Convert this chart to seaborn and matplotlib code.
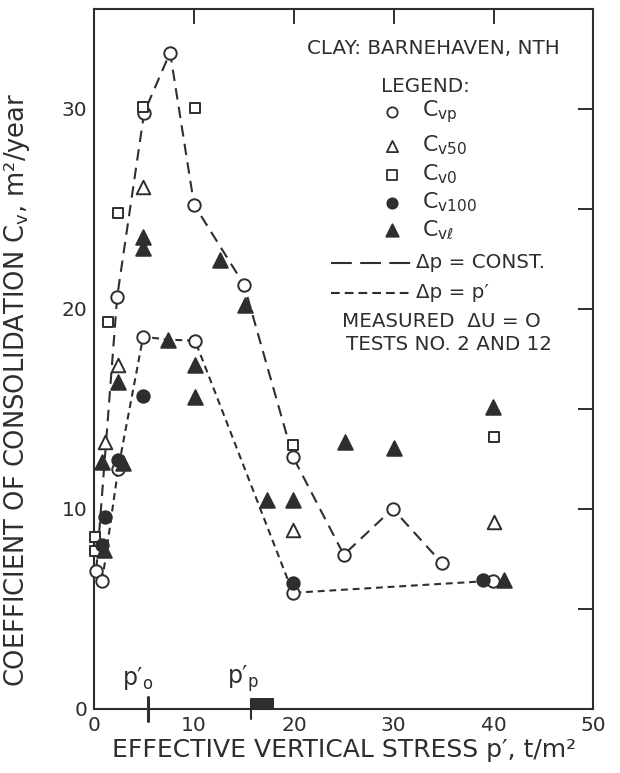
#!/usr/bin/env python3
# coefficient of consolidation vs effective vertical stress (Barnehaven clay)

import matplotlib
matplotlib.use('Agg')
import matplotlib.pyplot as plt
import pandas as pd
import seaborn as sns

# Data =========================================================================

cvp_x = [0.2, 0.8, 2.4, 2.3, 4.9, 5.0, 7.6, 10.1, 10.0, 15.0, 19.9, 19.9, 25.0, 29.9, 34.8, 39.9]
cvp_y = [6.9, 6.4, 12.0, 20.6, 18.6, 29.8, 32.8, 18.4, 25.2, 21.2, 12.6, 5.8, 7.7, 10.0, 7.3, 6.4]

cv50_x = [1.1, 2.4, 4.9, 19.9, 40.0]
cv50_y = [13.35, 17.2, 26.1, 8.95, 9.35]

cv0_x = [0.1, 0.1, 1.4, 2.4, 4.9, 10.1, 19.9, 40.0]
cv0_y = [8.6, 7.9, 19.35, 24.8, 30.1, 30.05, 13.2, 13.6]

cv100_x = [1.1, 0.8, 2.4, 4.9, 19.9, 38.9]
cv100_y = [9.6, 8.2, 12.45, 15.65, 6.3, 6.45]

cvl_x = [0.8, 1.0, 2.4, 2.9, 4.9, 4.9, 7.4, 10.1, 10.1, 12.6, 15.1, 17.3, 19.9, 25.1, 30.0, 39.9, 41.0]
cvl_y = [12.35, 7.95, 16.35, 12.3, 23.6, 23.05, 18.45, 17.2, 15.6, 22.45, 20.2, 10.45, 10.45, 13.35, 13.05, 15.1, 6.45]

# dashed curves: delta p = const. and delta p = p'
const_x = [0.2, 2.3, 5.0, 7.6, 10.0, 15.0, 19.9, 25.0, 29.9, 34.8]
const_y = [6.9, 20.6, 29.8, 32.8, 25.2, 21.2, 12.6, 7.7, 10.0, 7.3]
pprime_x = [0.8, 2.4, 4.9, 7.4, 10.1, 19.9, 39.9]
pprime_y = [6.4, 12.0, 18.6, 18.45, 18.4, 5.8, 6.4]

# p'_o and p'_p markers on the stress axis
p0_stress = 5.4
pp_stress = (15.7, 18.0)

INK = '#2e2e2e'


def main():
    sns.set_theme(style='white')
    plt.rcParams['font.family'] = ['DejaVu Sans']
    plt.rcParams['mathtext.default'] = 'regular'

    fig = plt.figure(figsize=(6.2, 7.73), dpi=100)
    ax = fig.add_axes([0.152, 0.083, 0.805, 0.906])

    long_dash = (5.5, 3.5)
    short_dash = (3.3, 2.3)
    sns.lineplot(x=const_x, y=const_y, sort=False, estimator=None, ax=ax,
                 color=INK, lw=1.5, dashes=False, linestyle=(0, long_dash))
    sns.lineplot(x=pprime_x, y=pprime_y, sort=False, estimator=None, ax=ax,
                 color=INK, lw=1.5, dashes=False, linestyle=(0, short_dash))

    series = [
        (cvp_x, cvp_y, 'o', 'white', 80),
        (cv50_x, cv50_y, '^', 'white', 95),
        (cv0_x, cv0_y, 's', 'white', 60),
        (cv100_x, cv100_y, 'o', INK, 80),
        (cvl_x, cvl_y, '^', INK, 110),
    ]
    for xs, ys, m, fc, s in series:
        sns.scatterplot(x=xs, y=ys, marker=m, s=s, facecolor=fc,
                        edgecolor=INK, linewidth=1.4, ax=ax, zorder=3,
                        clip_on=False)

    ax.set_xlim(0, 50)
    ax.set_ylim(0, 35)
    ax.set_xticks(range(0, 51, 10))
    ax.set_xticklabels(['0', '10', '20', '30', '40', '50'])
    ax.set_yticks(range(0, 36, 5))
    ax.set_yticklabels(['0', '', '10', '', '20', '', '30', ''])
    ax.tick_params(direction='in', length=11, width=1.4, color=INK,
                   labelcolor=INK, labelsize=14.5, top=True, right=True, pad=5)
    for sp in ax.spines.values():
        sp.set_color(INK)
        sp.set_linewidth(1.5)

    ax.set_xlabel('EFFECTIVE VERTICAL STRESS p′, t/m²', fontsize=18,
                  color=INK, labelpad=2)
    ax.set_ylabel('COEFFICIENT OF CONSOLIDATION C$_v$, m²/year',
                  fontsize=18.5, color=INK)
    ax.yaxis.set_label_coords(-0.125, 0.455)

    # p'_o and p'_p on the stress axis
    ax.plot([p0_stress, p0_stress], [-0.6, 0.6], color=INK, lw=2.2,
            clip_on=False)
    ax.text(p0_stress - 1.0, 1.5, 'p′$_o$', fontsize=17, color=INK,
            ha='center', va='center')
    ax.fill_between(pp_stress, 0, 0.55, color=INK, lw=0, clip_on=False)
    ax.plot([pp_stress[0], pp_stress[0]], [-0.5, 0.5], color=INK, lw=1.5,
            clip_on=False)
    ax.text(pp_stress[0] - 0.8, 1.5, 'p′$_p$', fontsize=17, color=INK,
            ha='center', va='center')

    # legend block
    fs = 14.3
    ax.text(34.0, 33.0, 'CLAY: BARNEHAVEN, NTH', fontsize=fs, color=INK,
            ha='center', va='center')
    ax.text(33.2, 31.1, 'LEGEND:', fontsize=fs, color=INK,
            ha='center', va='center')
    rows = [
        ('o', 'white', 55, 'C$_{vp}$', 29.85),
        ('^', 'white', 65, 'C$_{v50}$', 28.15),
        ('s', 'white', 45, 'C$_{v0}$', 26.7),
        ('o', INK, 55, 'C$_{v100}$', 25.3),
        ('^', INK, 80, 'C$_{v\\ell}$', 23.95),
    ]
    for m, fc, s, lab, yy in rows:
        ax.scatter([29.8], [yy], marker=m, s=s, facecolor=fc, edgecolor=INK,
                   linewidth=1.3, zorder=3)
        ax.text(32.8, yy, lab, fontsize=fs + 1.5, color=INK, ha='left',
                va='center')
    ax.plot([23.7, 31.7], [22.3, 22.3], color=INK, lw=1.5,
            linestyle=(0, (10, 4)))
    ax.text(32.2, 22.3, 'Δp = CONST.', fontsize=fs, color=INK, ha='left',
            va='center')
    ax.plot([23.7, 31.7], [20.8, 20.8], color=INK, lw=1.5,
            linestyle=(0, (4.2, 2.4)))
    ax.text(32.2, 20.8, 'Δp = p′', fontsize=fs, color=INK, ha='left',
            va='center')
    ax.text(34.8, 19.35, 'MEASURED  ΔU = O', fontsize=fs, color=INK,
            ha='center', va='center')
    ax.text(35.5, 18.2, 'TESTS NO. 2 AND 12', fontsize=fs, color=INK,
            ha='center', va='center')

    fig.savefig('out.png', dpi=100)


if __name__ == '__main__':
    main()
